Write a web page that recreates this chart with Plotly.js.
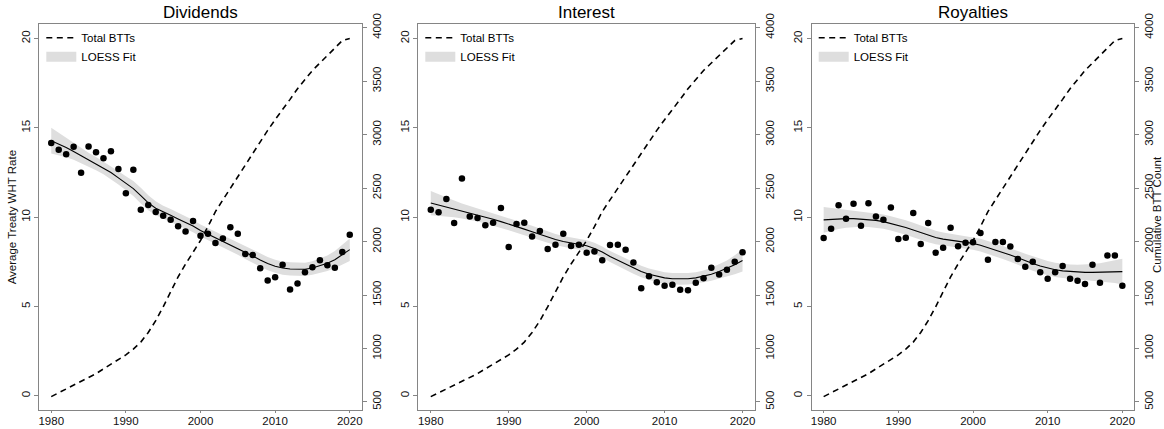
<!DOCTYPE html>
<html><head><meta charset="utf-8">
<script src="https://cdn.plot.ly/plotly-3.0.1.min.js"></script>
<style>html,body{margin:0;padding:0;background:#fff}#chart{width:1164px;height:429px}</style>
</head><body><div id="chart"></div>
<script>
const years = [1980,1981,1982,1983,1984,1985,1986,1987,1988,1989,1990,1991,1992,1993,1994,1995,1996,1997,1998,1999,2000,2001,2002,2003,2004,2005,2006,2007,2008,2009,2010,2011,2012,2013,2014,2015,2016,2017,2018,2019,2020];
const totalBTTs = [550,585,620,655,690,725,765,810,855,895,940,995,1060,1150,1260,1390,1530,1670,1790,1900,2010,2140,2280,2390,2500,2610,2720,2830,2940,3040,3140,3230,3330,3430,3520,3600,3670,3740,3810,3880,3900];

const divRate = [14.15,13.78,13.52,13.94,12.49,13.96,13.63,13.3,13.69,12.7,11.34,12.66,10.42,10.68,10.29,10.08,9.86,9.49,9.2,9.78,8.96,9.07,8.55,8.81,9.43,9.07,7.94,7.88,7.14,6.45,6.64,7.33,5.95,6.29,6.92,7.2,7.59,7.31,7.16,8.05,9.02];
const divFit = [14.28,14.1,13.9,13.68,13.45,13.22,13.0,12.76,12.5,12.2,11.9,11.6,11.2,10.8,10.5,10.28,10.1,9.9,9.72,9.5,9.25,9.05,8.85,8.65,8.45,8.25,8.02,7.82,7.6,7.4,7.25,7.15,7.1,7.08,7.08,7.15,7.27,7.42,7.62,7.88,8.18];
const divCI = [0.72,0.62,0.54,0.47,0.42,0.39,0.37,0.36,0.36,0.37,0.39,0.42,0.44,0.42,0.39,0.36,0.35,0.34,0.34,0.34,0.34,0.34,0.34,0.34,0.35,0.36,0.37,0.37,0.37,0.37,0.37,0.37,0.37,0.37,0.37,0.38,0.4,0.43,0.48,0.55,0.63];

const intRate = [10.41,10.28,11.01,9.67,12.16,10.04,9.95,9.54,9.69,10.51,8.33,9.61,9.69,8.92,9.22,8.22,8.46,9.07,8.39,8.46,8.01,8.07,7.59,8.44,8.46,8.18,7.46,6.02,6.69,6.36,6.16,6.21,5.93,5.91,6.32,6.58,7.16,6.79,7.05,7.5,8.03];
const intFit = [10.79,10.68,10.57,10.46,10.35,10.24,10.12,10.0,9.88,9.75,9.62,9.48,9.33,9.18,9.03,8.88,8.75,8.64,8.56,8.5,8.4,8.25,8.05,7.8,7.58,7.36,7.15,6.96,6.8,6.68,6.6,6.55,6.54,6.55,6.6,6.68,6.8,6.95,7.12,7.33,7.57];
const intCI = [0.68,0.6,0.53,0.47,0.42,0.39,0.37,0.36,0.35,0.35,0.35,0.35,0.35,0.34,0.33,0.32,0.31,0.31,0.31,0.31,0.31,0.31,0.31,0.31,0.32,0.32,0.32,0.32,0.32,0.32,0.32,0.32,0.32,0.32,0.32,0.33,0.36,0.4,0.45,0.53,0.62];

const royRate = [8.83,9.35,10.67,9.91,10.75,9.52,10.78,10.04,9.85,10.54,8.78,8.85,10.23,8.5,9.67,8.0,8.28,9.41,8.37,8.56,8.59,9.11,7.62,8.61,8.61,8.35,7.66,7.22,7.5,6.92,6.55,6.92,7.27,6.55,6.44,6.25,7.33,6.32,7.85,7.85,6.16];
const royFit = [9.85,9.88,9.9,9.92,9.92,9.9,9.87,9.82,9.75,9.65,9.55,9.42,9.28,9.13,8.98,8.86,8.77,8.71,8.66,8.6,8.53,8.43,8.3,8.17,8.03,7.88,7.72,7.55,7.4,7.26,7.14,7.05,6.99,6.95,6.92,6.91,6.91,6.92,6.93,6.94,6.95];
const royCI = [0.72,0.64,0.57,0.51,0.47,0.44,0.42,0.41,0.4,0.4,0.4,0.4,0.4,0.4,0.39,0.38,0.37,0.36,0.36,0.36,0.36,0.36,0.36,0.36,0.37,0.38,0.39,0.4,0.4,0.4,0.4,0.4,0.4,0.4,0.41,0.43,0.46,0.5,0.56,0.63,0.72];

const panelTitles = ['Dividends','Interest','Royalties'];
const xTicks = [1980,1990,2000,2010,2020];
const leftTicks = [0,5,10,15,20];
const rightTicks = [500,1000,1500,2000,2500,3000,3500,4000];
const leftTitle = 'Average Treaty WHT Rate';
const rightTitle = 'Cumulative BTT Count';
const legendNames = ['Total BTTs','LOESS Fit'];

const panels = [
  {rate: divRate, fit: divFit, ci: divCI},
  {rate: intRate, fit: intFit, ci: intCI},
  {rate: royRate, fit: royFit, ci: royCI}
];

const W = 1164, H = 429;
const xDomains = [[39.3/W, 361.7/W],[418.3/W, 755/W],[811.7/W, 1134.3/W]];
const yDomain = [1-410/H, 1-24.3/H];
const FONT = 'Liberation Sans, Arial, Helvetica, sans-serif';
const AXCOL = '#858585';
const BAND = '#dedede';

const data = [];
const layout = {
  width: W, height: H,
  margin: {l:0, r:0, t:0, b:0},
  paper_bgcolor: '#fff', plot_bgcolor: '#fff',
  font: {family: FONT, size: 11.5, color: '#000'},
  showlegend: true,
  annotations: []
};

panels.forEach((p, i) => {
  const n = i + 1;
  const xa = n === 1 ? 'x' : 'x' + n;
  const yl = 'y' + (2*i + 1 === 1 ? '' : (2*i + 1));
  const yr = 'y' + (2*i + 2);
  const leg = n === 1 ? 'legend' : 'legend' + n;
  const lower = p.fit.map((v, k) => v - p.ci[k]);
  const upper = p.fit.map((v, k) => v + p.ci[k]);

  data.push({x: years, y: lower, xaxis: xa, yaxis: yl, mode: 'lines', line: {width: 0, color: BAND}, hoverinfo: 'skip', showlegend: false});
  data.push({x: years, y: upper, xaxis: xa, yaxis: yl, mode: 'lines', fill: 'tonexty', fillcolor: BAND, line: {width: 0, color: BAND}, hoverinfo: 'skip', showlegend: false});
  data.push({x: years, y: p.fit, xaxis: xa, yaxis: yl, mode: 'lines', line: {color: '#000', width: 1.1}, showlegend: false});
  data.push({x: years, y: p.rate, xaxis: xa, yaxis: yl, mode: 'markers', marker: {color: '#000', size: 6.5}, showlegend: false});
  data.push({x: years, y: totalBTTs, xaxis: xa, yaxis: yr, mode: 'lines', name: legendNames[0], legend: leg, legendrank: 1,
    line: {color: '#000', width: 1.6, dash: '6px,4.5px'}});
  data.push({x: [null], y: [null], xaxis: xa, yaxis: yl, mode: 'lines', name: legendNames[1], legend: leg, legendrank: 2,
    line: {color: BAND, width: 10}});

  const xKey = n === 1 ? 'xaxis' : 'xaxis' + n;
  const ylKey = 'yaxis' + (2*i + 1 === 1 ? '' : (2*i + 1));
  const yrKey = 'yaxis' + (2*i + 2);

  layout[xKey] = {
    domain: xDomains[i], anchor: yl, range: [1978.4, 2021.6],
    tickvals: xTicks, ticks: 'outside', ticklen: 2, tickcolor: AXCOL, ticklabelstandoff: -2,
    showline: true, linecolor: AXCOL, linewidth: 1, mirror: true,
    showgrid: false, zeroline: false, tickfont: {size: 11.5, color: '#111'}
  };
  layout[ylKey] = {
    domain: yDomain, anchor: xa, range: [-0.8, 20.8],
    tickvals: leftTicks, ticks: 'outside', ticklen: 4, tickcolor: AXCOL, tickangle: -90,
    showline: true, linecolor: AXCOL, linewidth: 1, mirror: true,
    showgrid: false, zeroline: false, tickfont: {size: 11.5, color: '#111'}
  };
  if (i === 0) {
    layout[ylKey].title = {text: leftTitle, font: {size: 11.5, color: '#111'}, standoff: 0};
  }
  layout[yrKey] = {
    overlaying: yl, side: 'right', anchor: xa, range: [425, 4032],
    tickvals: rightTicks, ticks: 'outside', ticklen: 4, tickcolor: AXCOL, tickangle: -90,
    showline: false, showgrid: false, zeroline: false, tickfont: {size: 11.5, color: '#111'}
  };
  layout[leg] = {
    x: (xDomains[i][0]*W + 2)/W, y: yDomain[1] + 1/H, xanchor: 'left', yanchor: 'top',
    bgcolor: 'rgba(0,0,0,0)', borderwidth: 0, font: {size: 11.5, color: '#000'},
    traceorder: 'normal'
  };
  layout.annotations.push({
    text: panelTitles[i], xref: 'paper', yref: 'paper',
    x: (xDomains[i][0] + xDomains[i][1]) / 2, y: 1 - 12.7/H,
    xanchor: 'center', yanchor: 'middle', showarrow: false,
    font: {size: 17, color: '#000'}
  });
});

layout.annotations.push({
  text: rightTitle, xref: 'paper', yref: 'paper',
  x: 1157/W, y: 1 - 215/H, xanchor: 'center', yanchor: 'middle',
  textangle: -90, showarrow: false, font: {size: 11.5, color: '#111'}
});

Plotly.newPlot('chart', data, layout, {staticPlot: true, displayModeBar: false});
</script>
</body></html>
